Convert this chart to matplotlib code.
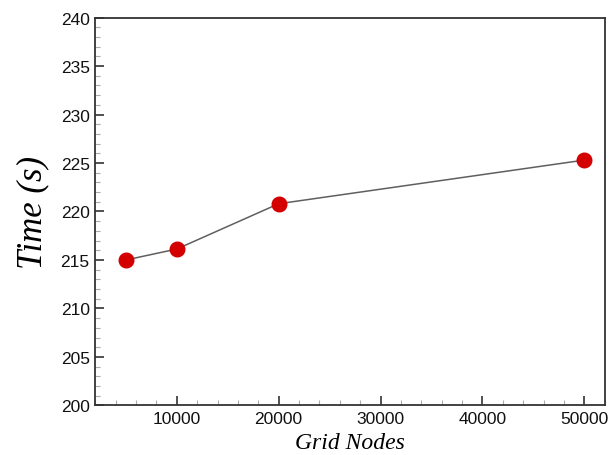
import matplotlib
matplotlib.use("Agg")
import matplotlib.pyplot as plt
from matplotlib.ticker import MultipleLocator

grid_nodes = [5000, 10000, 20000, 50000]
time_s = [215.0, 216.13, 220.8, 225.3]
x_ticks = [10000, 20000, 30000, 40000, 50000]
y_ticks = [200, 205, 210, 215, 220, 225, 230, 235, 240]

fig = plt.figure(figsize=(6.10, 4.56), dpi=100)
ax = fig.add_axes([0.1562, 0.1086, 0.8351, 0.8508])

ax.plot(grid_nodes, time_s, color="#5f5f5f", lw=1.1, zorder=2)
ax.plot(grid_nodes, time_s, ls="none", marker="o", ms=10.5,
        mfc="#d40000", mec="#d40000", zorder=3)

ax.set_xlim(2000, 52000)
ax.set_ylim(200, 240)
ax.set_xticks(x_ticks)
ax.set_yticks(y_ticks)
ax.xaxis.set_minor_locator(MultipleLocator(2000))
ax.yaxis.set_minor_locator(MultipleLocator(1))

for s in ax.spines.values():
    s.set_color("#333333")
    s.set_linewidth(1.3)

ax.tick_params(which="both", direction="in", top=False, right=False)
ax.tick_params(which="major", length=6.2, width=1.2, color="#333333",
               labelsize=12.5, pad=4)
ax.tick_params(which="minor", length=3.8, width=0.8, color="#aaaaaa")
for lab in ax.get_xticklabels() + ax.get_yticklabels():
    lab.set_family(["Liberation Sans", "DejaVu Sans"])
    lab.set_color("#111111")

ax.set_xlabel("Grid Nodes", family=["Liberation Serif", "DejaVu Serif"],
              style="italic", fontsize=17, labelpad=4)
ax.set_ylabel("Time (s)", family=["Liberation Serif", "DejaVu Serif"],
              style="italic", fontsize=25, labelpad=8)

fig.savefig("out.png", dpi=100)
